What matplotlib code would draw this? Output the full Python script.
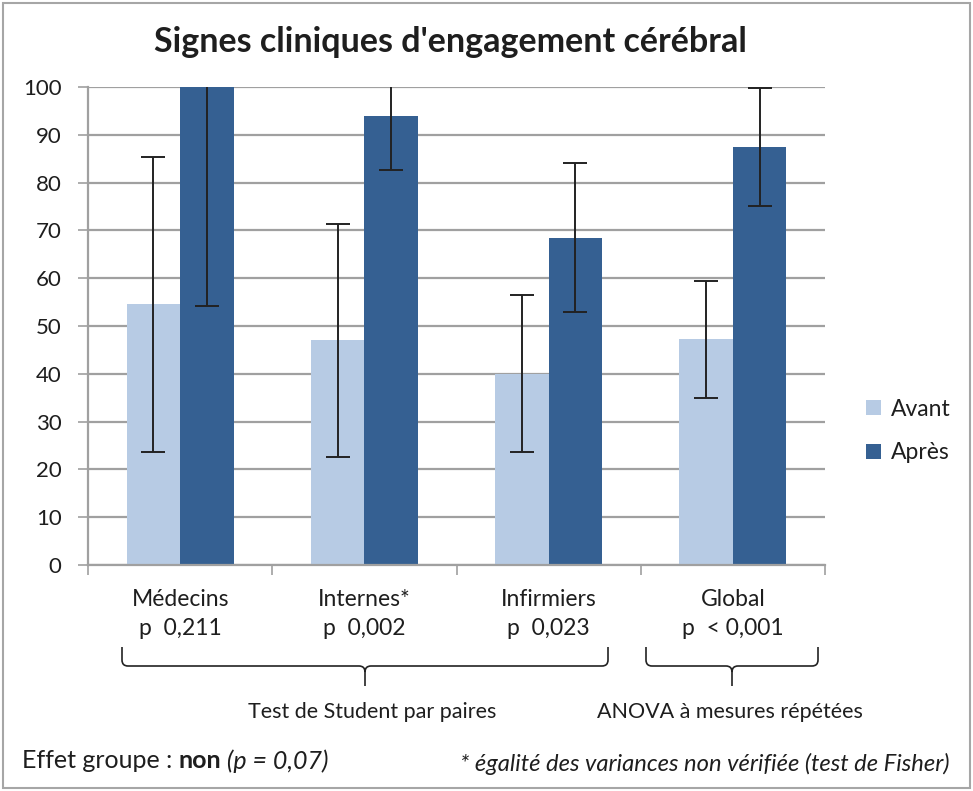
import matplotlib
matplotlib.use("Agg")
import matplotlib.pyplot as plt
from matplotlib.patches import Rectangle, Patch
from matplotlib.path import Path
from matplotlib.patches import PathPatch
import numpy as np

plt.rcParams['font.family'] = ['Lato', 'DejaVu Sans']

# data
categories = ["Médecins", "Internes*", "Infirmiers", "Global"]
p_values = ["p  0,211", "p  0,002", "p  0,023", "p  < 0,001"]
avant = [54.5, 47.0, 40.0, 47.2]
avant_sd = [30.8, 24.4, 16.4, 12.3]
apres = [100.0, 94.0, 68.5, 87.5]
apres_sd = [45.8, 11.4, 15.6, 12.3]
series = ["Avant", "Après"]

c_avant = "#b7cbe4"
c_apres = "#356092"
grid_c = "#a0a0a0"
txt_c = "#1e1e1e"

W, H = 973, 791
fig = plt.figure(figsize=(W / 100, H / 100), dpi=100)
fig.patch.set_facecolor("white")

ax = fig.add_axes([88 / W, 1 - 565 / H, (825 - 88) / W, 478 / H])

x = np.arange(len(categories))
bw = 0.29
ax.bar(x - bw / 2, avant, bw, color=c_avant, zorder=2)
ax.bar(x + bw / 2, apres, bw, color=c_apres, zorder=2)
ax.errorbar(x - bw / 2, avant, yerr=avant_sd, fmt="none", ecolor="#222222",
            elinewidth=1.4, capsize=8.6, capthick=1.4, zorder=3)
ax.errorbar(x + bw / 2, apres, yerr=apres_sd, fmt="none", ecolor="#222222",
            elinewidth=1.4, capsize=8.6, capthick=1.4, zorder=3)

ax.set_xlim(-0.5, len(categories) - 0.5)
ax.set_ylim(0, 100)
ax.set_yticks(range(0, 101, 10))
ax.yaxis.grid(True, color=grid_c, linewidth=1.6)
ax.set_axisbelow(True)
ax.tick_params(axis="y", length=7, width=1.2, color=grid_c, pad=12,
               labelsize=16, labelcolor=txt_c)

# group boundary ticks + centred two-line labels
ax.set_xticks(np.arange(-0.5, len(categories), 1.0))
ax.set_xticklabels([])
ax.tick_params(axis="x", which="major", length=7, width=1.2, color=grid_c)
ax.set_xticks(x, minor=True)
ax.set_xticklabels([c + "\n" + p for c, p in zip(categories, p_values)], minor=True)
ax.tick_params(axis="x", which="minor", length=0, pad=17, labelsize=16.5, labelcolor=txt_c)
for lab in ax.get_xticklabels(minor=True):
    lab.set_linespacing(1.5)

for s in ["top", "right"]:
    ax.spines[s].set_visible(False)
for s in ["left", "bottom"]:
    ax.spines[s].set_color(grid_c)
    ax.spines[s].set_linewidth(1.6)

fig.text(450 / W, 1 - 42 / H, "Signes cliniques d'engagement cérébral",
         ha="center", va="center", fontsize=24.5, fontweight="bold", color=txt_c)

handles = [Patch(facecolor=c_avant), Patch(facecolor=c_apres)]
fig.legend(handles, series, loc="center left", bbox_to_anchor=(855 / W, 1 - 431 / H),
           frameon=False, fontsize=16.5, handlelength=0.62, handleheight=0.62,
           handletextpad=0.45, labelspacing=1.0, borderpad=0, labelcolor=txt_c)


def brace(x0, x1, xm, ytop, yh, ytip):
    # coordinates in pixels, top-left origin
    r = 6
    pts = [(x0, ytop), (x0, yh - r), (x0, yh), (x0 + r, yh),
           (xm - r, yh), (xm, yh), (xm, yh + r), (xm, ytip),
           (xm, yh + r), (xm, yh), (xm + r, yh),
           (x1 - r, yh), (x1, yh), (x1, yh - r), (x1, ytop)]
    codes = [Path.MOVETO, Path.LINETO, Path.CURVE3, Path.CURVE3,
             Path.LINETO, Path.CURVE3, Path.CURVE3, Path.LINETO,
             Path.MOVETO, Path.CURVE3, Path.CURVE3,
             Path.LINETO, Path.CURVE3, Path.CURVE3, Path.LINETO]
    pts = [(px / W, 1 - py / H) for px, py in pts]
    fig.patches.append(PathPatch(Path(pts, codes), fill=False, edgecolor="#222222",
                                 linewidth=1.2, transform=fig.transFigure))


brace(122, 608, 365, 647, 666, 686)
brace(646, 818, 732, 647, 666, 686)

fig.text(372 / W, 1 - 712 / H, "Test de Student par paires", ha="center", va="center",
         fontsize=15.5, color=txt_c)
fig.text(730 / W, 1 - 712 / H, "ANOVA à mesures répétées", ha="center", va="center",
         fontsize=15.5, color=txt_c)

t1 = fig.text(22 / W, 1 - 761 / H, "Effet groupe : ", ha="left", va="center",
              fontsize=18, color=txt_c)
t2 = fig.text(0, 0, "non", fontsize=18, fontweight="bold", color=txt_c)
t3 = fig.text(0, 0, " (p = 0,07)", fontsize=18, style="italic", color=txt_c)
fig.canvas.draw()
r = fig.canvas.get_renderer()
b1 = t1.get_window_extent(r)
t2.set_position((b1.x1 / W, 1 - 761 / H))
t2.set_va("center")
b2 = t2.get_window_extent(r)
t3.set_position((b2.x1 / W, 1 - 761 / H))
t3.set_va("center")

fig.text(950 / W, 1 - 764 / H, "* égalité des variances non vérifiée (test de Fisher)",
         ha="right", va="center", fontsize=17.1, style="italic", color=txt_c)

fig.patches.append(Rectangle((3 / W, 3 / H), 967 / W, 785 / H, fill=False,
                             edgecolor="#a6a6a6", linewidth=1.5, transform=fig.transFigure))

fig.savefig("out.png", dpi=100)
